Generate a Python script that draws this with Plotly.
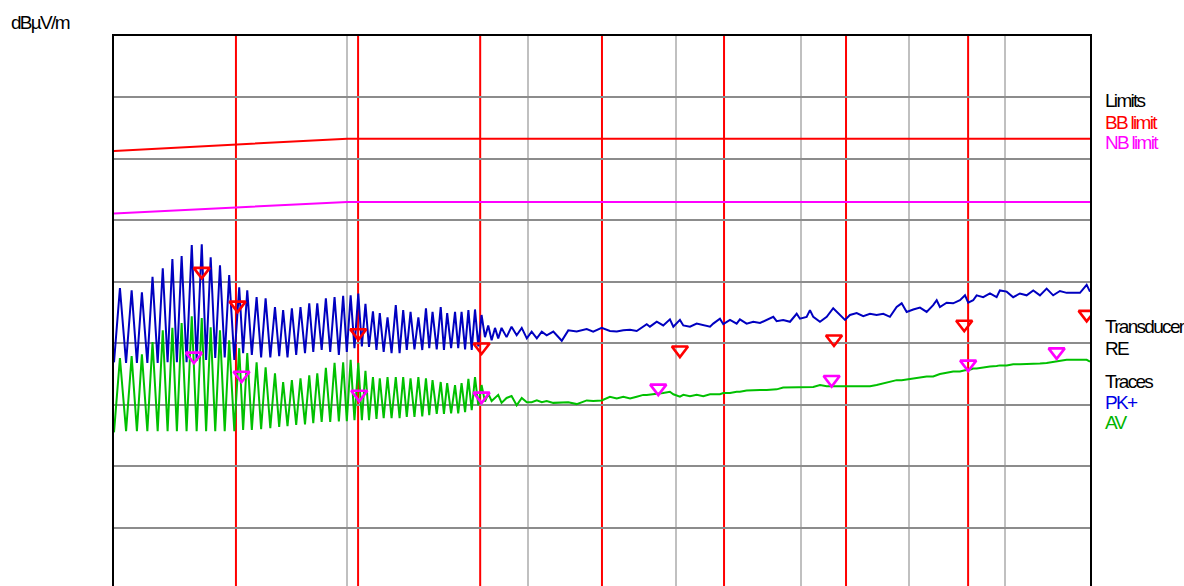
import plotly.graph_objects as go

# ---------------- data ----------------
# oscillating part of the sweep (alternating trough / peak), MHz
freq_osc = [
    300.0, 302.2, 304.5, 306.6, 308.6, 310.5, 312.6, 314.6, 316.6, 318.6,
    320.5, 322.4, 324.2, 326.1, 328.1, 330.2, 332.2, 334.3, 336.1, 338.0,
    339.9, 341.9, 343.9, 345.8, 348.0, 350.1, 351.8, 353.6, 355.6, 357.7,
    359.7, 361.7, 363.8, 365.9, 367.8, 369.6, 371.6, 373.6, 375.6, 377.6,
    379.7, 381.7, 383.6, 385.5, 387.6, 389.6, 391.7, 393.8, 395.9, 398.0,
    399.8, 401.7, 403.6, 405.5, 407.3, 409.1, 410.9, 412.9, 414.7, 416.4,
    418.4, 420.4, 422.5, 424.7, 426.7, 428.6, 430.5, 432.5, 434.6, 436.7,
    438.8, 440.8, 442.6, 444.4, 446.7, 448.9, 450.7, 452.5, 454.7, 456.9,
    458.7, 460.6, 462.6, 464.5, 466.4, 468.3, 470.2, 472.1,
]
pk_osc = [
    36.9, 49.0, 36.8, 48.6, 36.8, 48.3, 36.8, 50.8, 36.8, 52.2,
    36.9, 53.7, 36.9, 54.2, 36.9, 56.0, 37.1, 56.1, 37.3, 54.0,
    37.6, 52.7, 37.7, 51.1, 37.3, 49.1, 38.4, 48.6, 38.1, 47.5,
    37.7, 47.3, 37.7, 45.9, 37.9, 45.4, 37.7, 45.7, 38.1, 45.9,
    38.4, 46.5, 38.6, 46.5, 38.9, 47.3, 38.6, 47.5, 38.1, 47.7,
    38.6, 47.8, 39.2, 48.1, 39.5, 46.4, 39.4, 45.2, 38.9, 44.9,
    38.6, 44.2, 38.4, 46.2, 38.4, 45.4, 38.9, 45.1, 39.0, 44.2,
    38.9, 45.7, 39.2, 45.1, 39.0, 45.9, 38.9, 44.9, 39.2, 45.1,
    39.2, 45.1, 39.0, 45.4, 38.9, 45.5, 39.5, 44.6,
]
av_osc = [
    25.5, 37.6, 25.7, 37.9, 25.7, 38.2, 25.7, 40.2, 25.7, 42.1,
    25.7, 42.5, 25.7, 43.3, 25.7, 44.4, 25.7, 44.1, 25.7, 42.6,
    25.7, 42.1, 25.7, 40.5, 25.7, 39.2, 25.9, 38.4, 25.9, 36.9,
    26.0, 36.1, 26.2, 35.1, 26.4, 33.7, 26.5, 34.0, 26.7, 34.3,
    26.8, 34.8, 27.0, 35.1, 27.2, 36.0, 27.2, 36.8, 27.3, 36.9,
    27.3, 37.3, 27.5, 36.8, 27.5, 35.5, 27.5, 34.5, 27.7, 34.3,
    27.8, 34.5, 27.8, 34.5, 27.8, 34.5, 28.0, 34.3, 28.0, 34.5,
    28.1, 34.3, 28.3, 34.0, 28.5, 33.7, 28.5, 33.5, 28.6, 33.2,
    28.6, 33.5, 28.8, 34.2, 29.1, 34.5, 29.9, 33.2,
]

# noisy, slowly rising part of the sweep, MHz
freq_flat = [
    474.1, 476.0, 478.0, 480.0, 481.9, 483.9, 486.9, 489.9, 493.0, 496.1,
    499.2, 502.2, 505.4, 508.5, 511.6, 515.8, 521.2, 525.4, 530.9, 537.5,
    541.8, 547.5, 553.1, 557.8, 562.3, 567.0, 571.7, 576.3, 578.8, 581.1,
    586.0, 590.7, 595.6, 598.1, 603.0, 605.5, 610.5, 615.6, 620.6, 625.8,
    628.3, 633.5, 636.1, 641.4, 646.7, 649.3, 654.7, 660.1, 665.6, 671.1,
    676.6, 679.4, 684.9, 690.7, 696.4, 699.2, 705.0, 707.9, 710.8, 716.7,
    722.7, 728.5, 734.6, 739.2, 743.7, 749.9, 756.0, 762.3, 768.6, 774.9,
    781.3, 787.8, 792.7, 797.6, 804.1, 810.8, 817.5, 824.1, 827.7, 831.0,
    837.9, 844.7, 851.8, 857.1, 860.5, 865.8, 869.5, 876.6, 883.9, 891.2,
    894.8, 902.3, 909.6, 917.2, 924.8, 932.4, 940.1, 947.9, 955.6, 963.6,
    971.6, 979.5, 987.7, 995.9, 1000.0,
]
pk_flat = [
    41.0, 42.9, 40.5, 42.5, 40.8, 42.5, 41.0, 42.7, 41.3, 42.5,
    40.8, 41.9, 40.8, 41.9, 41.3, 41.9, 40.4, 42.1, 41.9, 42.3,
    41.9, 42.5, 42.0, 41.9, 42.1, 42.2, 42.0, 42.7, 43.1, 42.7,
    43.5, 42.9, 43.9, 42.7, 43.8, 42.9, 42.7, 43.2, 42.9, 42.7,
    43.2, 44.0, 43.1, 43.8, 43.2, 43.9, 43.2, 43.5, 43.3, 43.8,
    44.3, 43.6, 43.8, 43.5, 44.8, 44.0, 44.3, 45.4, 44.3, 43.5,
    44.3, 45.7, 44.6, 43.8, 44.6, 44.9, 44.4, 44.8, 44.6, 44.8,
    44.3, 45.9, 46.5, 45.1, 45.5, 45.8, 45.1, 46.2, 47.0, 45.9,
    46.6, 46.5, 47.0, 47.8, 46.6, 47.0, 47.8, 47.5, 48.1, 47.5,
    48.6, 48.4, 47.5, 48.1, 47.8, 48.6, 47.8, 48.9, 47.8, 48.5,
    48.2, 48.2, 48.2, 49.5, 48.4,
]
av_flat = [
    30.5, 31.8, 30.6, 31.1, 31.6, 30.3, 31.1, 31.4, 29.9, 31.1,
    30.4, 30.4, 30.7, 30.4, 30.6, 30.3, 30.4, 30.4, 30.1, 30.7,
    30.6, 30.7, 31.3, 31.0, 31.3, 31.0, 31.3, 31.6, 31.6, 31.7,
    31.8, 31.9, 32.1, 31.7, 31.3, 31.6, 31.4, 31.6, 31.4, 31.7,
    31.7, 31.7, 31.9, 31.9, 32.1, 32.1, 32.3, 32.4, 32.4, 32.4,
    32.4, 32.5, 32.8, 32.8, 32.8, 32.8, 32.9, 32.9, 32.9, 33.2,
    33.0, 33.0, 33.0, 33.0, 33.0, 33.0, 33.0, 33.0, 33.2, 33.5,
    33.7, 34.0, 34.0, 34.1, 34.3, 34.4, 34.6, 34.6, 34.8, 35.0,
    35.2, 35.4, 35.4, 35.6, 35.6, 35.9, 35.9, 36.1, 36.2, 36.3,
    36.4, 36.4, 36.6, 36.6, 36.6, 36.6, 36.7, 36.8, 37.0, 37.1,
    37.3, 37.3, 37.3, 37.3, 37.0,
]

# limit lines
limit_freq = [300.0, 400.0, 1000.0]
bb_limit = [71.3, 73.3, 73.3]
nb_limit = [61.1, 63.0, 63.0]

# final measurement markers
pk_mark_freq = [334.3, 349.4, 405.5, 472.1, 603.0, 729.2, 856.3, 995.9]
pk_mark_level = [51.7, 46.2, 41.7, 39.4, 38.9, 40.7, 43.1, 44.7]
av_mark_freq = [331.1, 351.1, 406.0, 472.1, 587.1, 727.1, 860.5, 959.7]
av_mark_level = [37.9, 34.8, 31.7, 31.4, 32.7, 34.1, 36.6, 38.6]

# sub-range boundaries (red vertical lines), MHz
subrange_edges = [348.7, 405.4, 471.3, 547.7, 636.7, 740.1, 860.4]
grid_freqs = [400, 500, 600, 700, 800, 900]

unit_label = "dBµV/m"
legend_items = [
    ("Limits", "#000000", 100.8),
    ("BB limit", "#ff0000", 122.5),
    ("NB limit", "#ff00ff", 142.8),
    ("Transducer", "#000000", 326.0),
    ("RE", "#000000", 348.0),
    ("Traces", "#000000", 381.5),
    ("PK+", "#0000e6", 402.0),
    ("AV", "#00b400", 422.0),
]

# ---------------- figure ----------------
W, H = 1184, 586
ML, MR, MT, MB = 114, 94, 36, 0
PH = H - MT - MB
FONT = "Liberation Sans, Arial, sans-serif"


def squeeze(t):
    return '<span style="letter-spacing:-1.7px">' + t + '</span>'


freq = freq_osc + freq_flat
pk = pk_osc + pk_flat
av = av_osc + av_flat

fig = go.Figure()
fig.add_trace(go.Scatter(x=limit_freq, y=bb_limit, mode="lines",
                         line=dict(color="#ff0000", width=2), hoverinfo="skip"))
fig.add_trace(go.Scatter(x=limit_freq, y=nb_limit, mode="lines",
                         line=dict(color="#ff00ff", width=2), hoverinfo="skip"))
fig.add_trace(go.Scatter(x=freq, y=pk, mode="lines",
                         line=dict(color="#0000c0", width=2)))
fig.add_trace(go.Scatter(x=freq, y=av, mode="lines",
                         line=dict(color="#00c000", width=2)))
fig.add_trace(go.Scatter(x=pk_mark_freq, y=pk_mark_level, mode="markers",
                         marker=dict(symbol="triangle-down-open", size=14, color="#ff0000",
                                     line=dict(width=2.6, color="#ff0000"))))
fig.add_trace(go.Scatter(x=av_mark_freq, y=av_mark_level, mode="markers",
                         marker=dict(symbol="triangle-down-open", size=14, color="#ff00ff",
                                     line=dict(width=2.6, color="#ff00ff"))))

for f in subrange_edges:
    fig.add_shape(type="line", xref="x", yref="paper", x0=f, x1=f, y0=0, y1=1,
                  line=dict(color="#ff0000", width=2), layer="below")

for text, color, py in legend_items:
    fig.add_annotation(xref="paper", yref="paper", x=1, xshift=13,
                       y=(H - MB - py) / PH, xanchor="left", yanchor="middle",
                       text=squeeze(text), showarrow=False,
                       font=dict(family=FONT, size=19, color=color))

fig.add_annotation(xref="paper", yref="paper", x=(9 - ML) / (W - ML - MR),
                   y=(H - MB - 22) / PH, xanchor="left", yanchor="middle",
                   text=squeeze(unit_label), showarrow=False,
                   font=dict(family=FONT, size=19, color="#000000"))

fig.update_layout(
    width=W, height=H,
    margin=dict(l=ML, r=MR, t=MT, b=MB, pad=0),
    paper_bgcolor="white", plot_bgcolor="white",
    showlegend=False,
    xaxis=dict(type="log", range=[2.47712, 3.0], tickvals=grid_freqs,
               showticklabels=False, ticks="", showgrid=True,
               gridcolor="#c0c0c0", gridwidth=2, side="top",
               showline=True, linecolor="#000000", linewidth=2, mirror=False,
               zeroline=False),
    yaxis=dict(range=[0.5, 90.0], dtick=10, tick0=0, showticklabels=False,
               ticks="", showgrid=True, gridcolor="#8c8c8c", gridwidth=2,
               showline=True, linecolor="#000000", linewidth=2, mirror=True,
               zeroline=False),
)

fig.write_html(
    "out.html",
    config={"displayModeBar": False},
    post_script="document.body.style.margin='0';document.body.style.overflow='hidden';",
)
